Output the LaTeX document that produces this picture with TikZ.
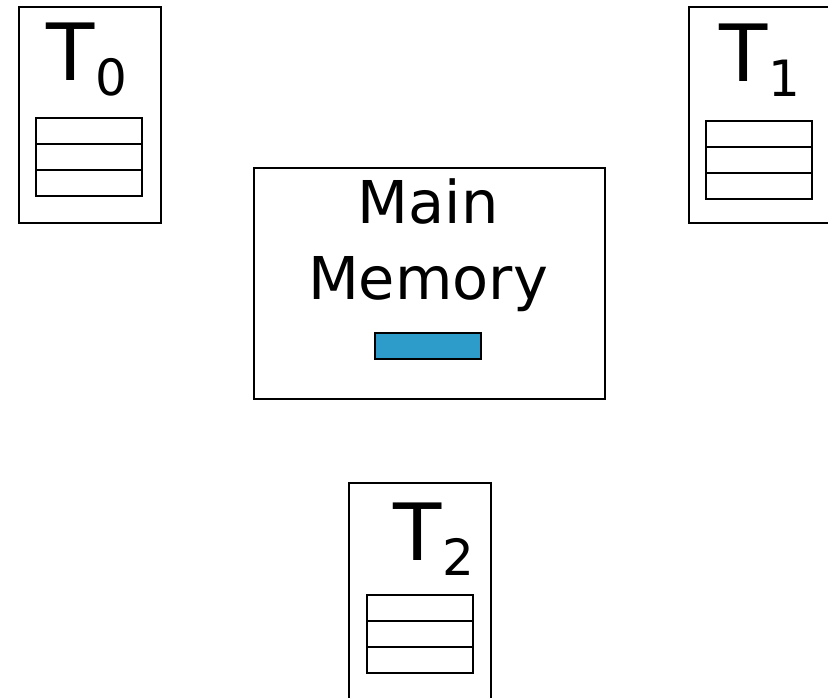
\documentclass[tikz,border=0pt]{standalone}
\usepackage{fontspec}
\setmainfont{DejaVu Sans}
\usepackage{xcolor}
\usetikzlibrary{positioning}
\definecolor{memblue}{HTML}{2E9CCA}
\newcommand{\thr}[1]{{\fontsize{79}{79}\selectfont T\raisebox{-15pt}{\fontsize{50}{50}\selectfont #1}}}

\begin{document}
\begin{tikzpicture}[x=1pt,y=-1pt,line width=1.8pt,
        thread/.style={draw,inner sep=0pt,minimum width=142pt,minimum height=216pt,anchor=north west},
        slot/.style={draw,inner sep=0pt,outer sep=0pt,minimum width=106pt,minimum height=26pt}]
        \useasboundingbox (0,0) rectangle (828,697);
        \clip (0,0) rectangle (828,697);
        % threads
        \node[thread] (t0) at (18,6) {};
        \node[anchor=base west,inner sep=0pt] (t0name) at (46,80) {\thr{0}};
        \node[slot,anchor=north west] (t0a) at (36,118) {};
        \node[slot,below=0pt of t0a] (t0b) {};
        \node[slot,below=0pt of t0b] (t0c) {};

        \node[thread] (t1) at (688,6) {};
        \node[anchor=base west,inner sep=0pt] (t1name) at (719,81) {\thr{1}};
        \node[slot,anchor=north west] (t1a) at (706,121) {};
        \node[slot,below=0pt of t1a] (t1b) {};
        \node[slot,below=0pt of t1b] (t1c) {};

        \node[thread] (t2) at (348,482) {};
        \node[anchor=base west,inner sep=0pt] (t2name) at (393,560) {\thr{2}};
        \node[slot,anchor=north west] (t2a) at (367,595) {};
        \node[slot,below=0pt of t2a] (t2b) {};
        \node[slot,below=0pt of t2b] (t2c) {};

        % main memory
        \node[draw,inner sep=0pt,minimum width=351pt,minimum height=231pt,anchor=north west] (mem) at (253,167) {};
        \node[align=center,inner sep=0pt,anchor=north,font=\fontsize{59}{76}\selectfont] (memname) at (428,178) {Main\\Memory};
        \node[slot,fill=memblue] (var) at (428,346) {};
    \end{tikzpicture}
\end{document}
